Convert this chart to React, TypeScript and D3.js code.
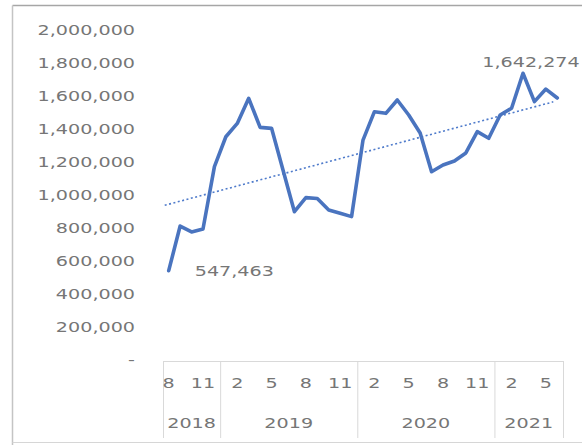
import React from "react";
import * as d3 from "d3";

const years = ["2018", "2019", "2020", "2021"];
const monthsPerYear = [5, 12, 12, 6];
const monthNumbers = [
  8, 9, 10, 11, 12,
  1, 2, 3, 4, 5, 6, 7, 8, 9, 10, 11, 12,
  1, 2, 3, 4, 5, 6, 7, 8, 9, 10, 11, 12,
  1, 2, 3, 4, 5, 6,
];
const values = [
  547463, 818000, 782000, 800000, 1178000,
  1359000, 1440000, 1592000, 1416000, 1410000, 1158000, 905000, 990000, 985000, 915000, 895000, 875000,
  1339000, 1511000, 1501000, 1582000, 1491000, 1382000, 1147000, 1188000, 1212000, 1261000, 1390000, 1350000,
  1491000, 1532000, 1744000, 1572000, 1648000, 1594000,
];
const yTicks = [0, 200000, 400000, 600000, 800000, 1000000, 1200000, 1400000, 1600000, 1800000, 2000000];
const dataLabels = [
  { index: 0, text: "547,463" },
  { index: 31, text: "1,642,274" },
];

const W = 582;
const H = 445;
const FONT = "'DejaVu Sans', sans-serif";
const TEXT = "#767676";
const SX = 1.45;

function T({ x, y, children, anchor = "middle", size = 13.2 }: any) {
  return (
    <text
      transform={`translate(${x},${y}) scale(${SX},1)`}
      textAnchor={anchor}
      dominantBaseline="central"
      fontFamily={FONT}
      fontSize={size}
      fill={TEXT}
    >
      {children}
    </text>
  );
}

export default function App() {
  const idx = values.map((_, i) => i);
  const x = d3.scaleBand<number>().domain(idx).range([163, 563]).paddingInner(0).paddingOuter(0);
  const cx = (i: number) => (x(i) as number) + x.bandwidth() / 2;
  const y = d3.scaleLinear().domain([0, 2000000]).range([361, 31]);

  const line = d3
    .line<number>()
    .x((_, i) => cx(i))
    .y((v) => y(v))
    .curve(d3.curveLinear);

  // linear trendline (least squares) derived from the data
  const n = values.length;
  const mx = d3.mean(idx) as number;
  const my = d3.mean(values) as number;
  const slope =
    d3.sum(idx, (i) => (i - mx) * (values[i] - my)) / d3.sum(idx, (i) => (i - mx) * (i - mx));
  const intercept = my - slope * mx;
  const t0 = intercept;
  const t1 = intercept + slope * (n - 1);

  // year boundaries
  const bounds: number[] = [0];
  monthsPerYear.forEach((m) => bounds.push(bounds[bounds.length - 1] + m));
  const bx = (k: number) => (k < n ? (x(k) as number) : 163 + x.bandwidth() * n);

  const axisY = y(0);

  return (
    <svg
      width={W}
      height={H}
      style={{ position: "absolute", left: 0, top: 0, background: "#fff" }}
    >
      <rect x={0} y={0} width={W} height={H} fill="#fff" />
      {/* chart frame */}
      <line x1={12.5} x2={W} y1={5.5} y2={5.5} stroke="#a6a6a6" strokeWidth={1.5} />
      <line x1={12.5} x2={12.5} y1={5.5} y2={H} stroke="#c4c4c4" strokeWidth={1.5} />
      <line x1={12.5} x2={W} y1={442.5} y2={442.5} stroke="#d6d6d6" strokeWidth={1} />

      {/* y tick labels */}
      {yTicks.map((t) => (
        <T key={t} x={135} y={y(t)} anchor="end">
          {t === 0 ? "-" : d3.format(",")(t)}
        </T>
      ))}

      {/* category axis */}
      <line x1={163} x2={bx(n)} y1={axisY + 0.5} y2={axisY + 0.5} stroke="#d9d9d9" strokeWidth={1} />
      {bounds.map((b, k) => (
        <line
          key={k}
          x1={bx(b) + 0.5}
          x2={bx(b) + 0.5}
          y1={axisY}
          y2={438}
          stroke="#d9d9d9"
          strokeWidth={1}
        />
      ))}
      {idx
        .filter((i) => i % 3 === 0)
        .map((i) => (
          <T key={i} x={cx(i)} y={384}>
            {String(monthNumbers[i])}
          </T>
        ))}
      {years.map((yr, k) => (
        <T key={yr} x={(bx(bounds[k]) + bx(bounds[k + 1])) / 2} y={424}>
          {yr}
        </T>
      ))}

      {/* trendline */}
      <line
        x1={cx(0) - 4}
        y1={y(t0)}
        x2={cx(n - 1) - 4}
        y2={y(t1)}
        stroke="#4F7BCB"
        strokeWidth={1.6}
        strokeDasharray="2 2.5"
      />

      {/* series */}
      <path
        d={line(values) || ""}
        fill="none"
        stroke="#4A74BF"
        strokeWidth={3.6}
        strokeLinejoin="round"
        strokeLinecap="round"
      />

      {/* data labels */}
      <T x={cx(dataLabels[0].index) + 26} y={y(values[dataLabels[0].index]) + 1} anchor="start">
        {dataLabels[0].text}
      </T>
      <T x={cx(dataLabels[1].index) + 8} y={y(values[dataLabels[1].index]) - 11} anchor="middle">
        {dataLabels[1].text}
      </T>
    </svg>
  );
}
